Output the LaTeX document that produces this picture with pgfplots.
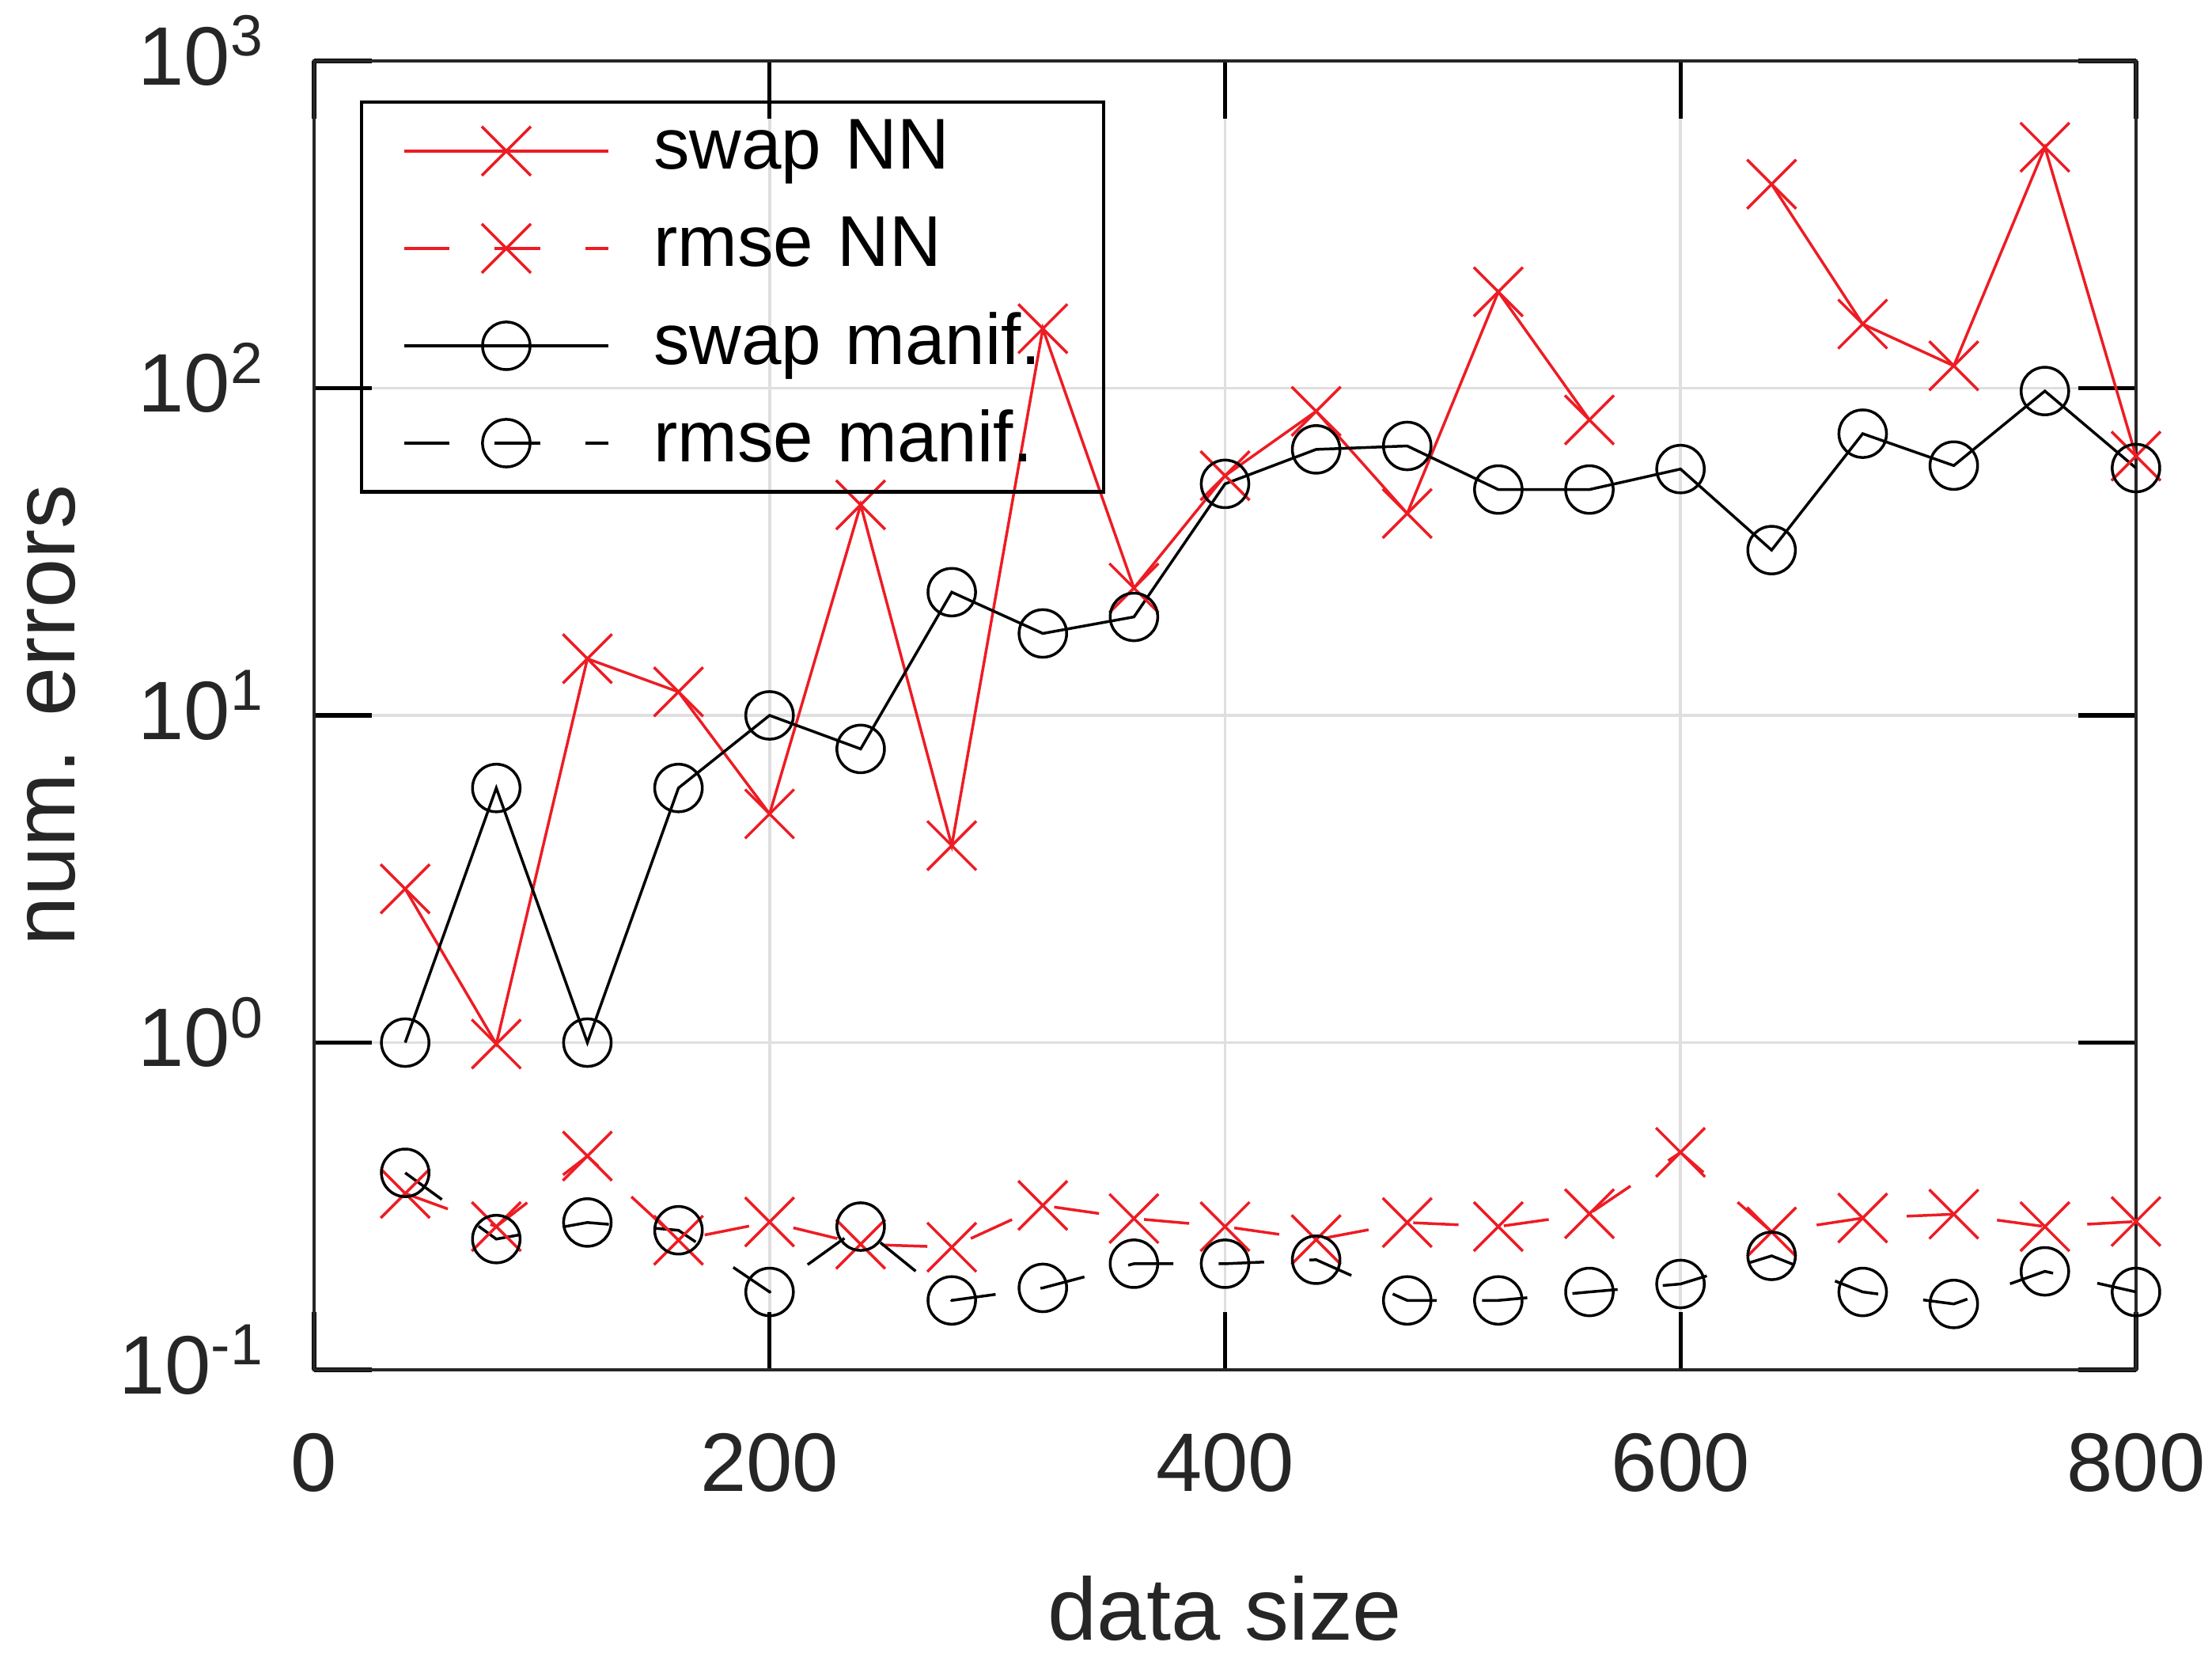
\documentclass[border=0pt]{standalone}
\usepackage{fontspec}
\setmainfont{Liberation Sans}
\usepackage{pgfplots}
\usepackage{pgfplotstable}
\pgfplotsset{compat=1.18}
\definecolor{axgray}{RGB}{38,38,38}
\definecolor{gridgray}{RGB}{223,223,223}
\definecolor{mred}{RGB}{237,28,36}

\pgfplotsset{
  layers/legendbelow/.define layer set={
    axis background,axis grid,legendbg,axis ticks,axis lines,axis tick labels,pre main,main,axis descriptions,axis foreground
  }{},
}

\pgfplotstableread{
x   swapNN  rmseNN  swapM  rmseM
40  2.95    0.346   1.0    0.400
80  0.99    0.274   6.0    0.251
120 14.9    0.450   1.0    0.282
160 11.8    0.249   6.0    0.267
200 5.0     0.283   10.0   0.173
240 44      0.242   7.9    0.274
280 4.0     0.237   23.8   0.163
320 152     0.318   17.8   0.178
360 24.5    0.290   20.0   0.211
400 54      0.274   51     0.211
440 85      0.250   65     0.217
480 41.4    0.282   66.6   0.163
520 197     0.274   49     0.163
560 80      0.300   49     0.173
600 nan     0.462   56.6   0.183
640 420     0.264   32     0.223
680 157     0.291   72.6   0.173
720 117     0.299   58     0.159
760 545     0.274   98     0.200
800 62      0.284   57     0.173
}\datatable

\begin{document}
\begin{tikzpicture}
\begin{axis}[
  set layers=legendbelow,
  scale only axis,
  width=329.46pt, height=236.62pt,
  at={(0pt,0pt)}, anchor=south west,
  ymode=log,
  xmin=0, xmax=800, ymin=0.1, ymax=1000,
  xtick={0,200,400,600,800},
  xticklabels={0,200,400,600,800},
  ytick={0.1,1,10,100,1000},
  yticklabels={10\textsuperscript{-1},10\textsuperscript{0},10\textsuperscript{1},10\textsuperscript{2},10\textsuperscript{3}},
  yminorticks=false,
  xminorticks=false,
  grid=major,
  major grid style={gridgray, line width=0.5pt},
  axis line style={axgray, line width=0.5pt},
  tick align=inside,
  major tick length=10.4pt,
  major tick style={black, line width=0.75pt},
  ticklabel style={font=\fontsize{15}{18}\selectfont, text=axgray, inner sep=0pt},
  xticklabel style={anchor=base, yshift=-21.9pt},
  yticklabel style={anchor=base east, xshift=-8.6pt, yshift=-4.3pt},
  xlabel={data size},
  ylabel={num. errors},
  label style={font=\fontsize{16}{19}\selectfont, text=axgray, inner sep=0pt},
  xlabel style={at={(axis description cs:0.5,-0.2062)}, anchor=base},
  ylabel style={at={(axis description cs:-0.1314,0.5)}, anchor=base, rotate=0},
  unbounded coords=jump,
  legend cell align=left,
  legend style={at={(axis description cs:0.0252,0.9696)}, anchor=north west,
    draw=black, line width=0.6pt, fill=none,
    inner xsep=7.4pt, inner ysep=2.8pt,
    column sep=7.9pt, row sep=5.6pt,
    font=\fontsize{13}{15}\selectfont, text=black,
    nodes={inner sep=0pt, text width=74pt, text height=9.3pt, text depth=2.7pt}},
  legend image code/.code={\draw[mark repeat=2,mark phase=2] plot coordinates {(0pt,0pt) (18.5pt,0pt) (37pt,0pt)};},
]
\begin{pgfonlayer}{legendbg}
\fill[white] (rel axis cs:0.0252,0.6721) rectangle (rel axis cs:0.4313,0.9696);
\end{pgfonlayer}
\addplot[mred, line width=0.5pt, mark=x, mark size=6.27pt, mark options={solid}] table[x=x, y=swapNN] {\datatable};
\addlegendentry{swap NN}
\addplot[mred, line width=0.5pt, dash pattern=on 8.2pt off 8.2pt, mark=x, mark size=6.27pt, mark options={solid}] table[x=x, y=rmseNN] {\datatable};
\addlegendentry{rmse NN}
\addplot[black, line width=0.5pt, mark=o, mark size=4.3pt, mark options={solid}] table[x=x, y=swapM] {\datatable};
\addlegendentry{swap manif.}
\addplot[black, line width=0.5pt, dash pattern=on 8.2pt off 8.2pt, mark=o, mark size=4.3pt, mark options={solid}] table[x=x, y=rmseM] {\datatable};
\addlegendentry{rmse manif.}
\end{axis}
\path (-56.80pt,-53.22pt) rectangle (343.20pt,247.64pt);
\end{tikzpicture}
\end{document}
